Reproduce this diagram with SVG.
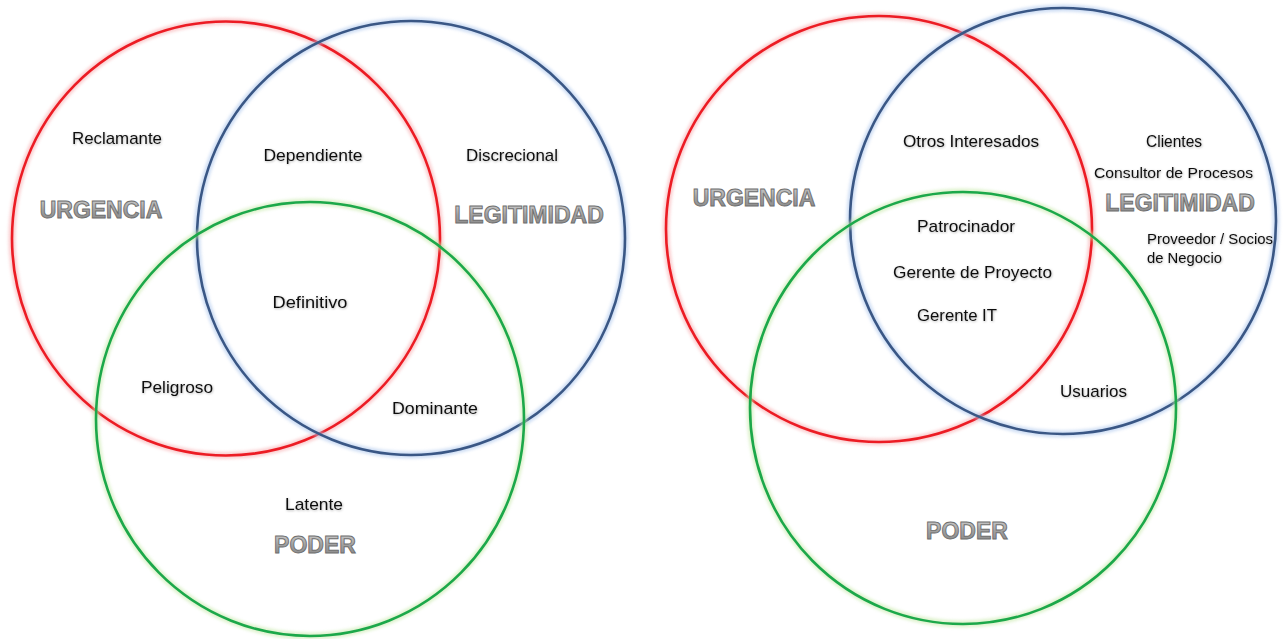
<svg xmlns="http://www.w3.org/2000/svg" width="1288" height="639" viewBox="0 0 1288 639">
  <defs>
    <filter id="halo" x="-10%" y="-10%" width="120%" height="120%">
      <feGaussianBlur stdDeviation="1.6"/>
    </filter>
    <filter id="soft" x="-10%" y="-30%" width="120%" height="160%">
      <feDropShadow dx="0.6" dy="0.8" stdDeviation="0.8" flood-color="#000" flood-opacity="0.3"/>
    </filter>
    <linearGradient id="bevel" x1="0" y1="0" x2="0" y2="1">
      <stop offset="0" stop-color="#d4d4d4"/>
      <stop offset="0.5" stop-color="#a0a0a0"/>
      <stop offset="1" stop-color="#858585"/>
    </linearGradient>
    <style>
      .ring { fill: none; stroke-width: 2.6; }
      .glow { fill: none; stroke-width: 7; opacity: 0.55; filter: url(#halo); }
      .red { stroke: #ec1c24; }
      .red-g { stroke: #f7a8ab; }
      .blue { stroke: #3a5785; }
      .blue-g { stroke: #a9c4ec; }
      .green { stroke: #1ca84a; }
      .green-g { stroke: #c5e8a6; }
      .lbl { font-family: "Liberation Sans", Arial, sans-serif; font-size: 17px; fill: #111; text-anchor: middle; filter: url(#soft); }
      .lbl-s { font-size: 15.5px; }
      .lbl-l { text-anchor: start; }
      .big { font-family: "Liberation Sans", Arial, sans-serif; font-weight: bold; font-size: 23px; fill: url(#bevel); stroke: #6e6e6e; stroke-width: 0.9; text-anchor: middle; }
    </style>
  </defs>
  <rect width="1288" height="639" fill="#ffffff"/>

  <!-- Left Venn: stakeholder classes -->
  <g id="left-venn">
    <g id="l-urgencia">
      <ellipse class="glow red-g" cx="226" cy="238.5" rx="214" ry="217"/>
      <ellipse class="ring red" cx="226" cy="238.5" rx="214" ry="217"/>
      <text class="big" x="101" y="218">URGENCIA</text>
    </g>
    <g id="l-legitimidad">
      <ellipse class="glow blue-g" cx="411" cy="238" rx="214" ry="217"/>
      <ellipse class="ring blue" cx="411" cy="238" rx="214" ry="217"/>
      <text class="big" x="529" y="223">LEGITIMIDAD</text>
    </g>
    <g id="l-poder">
      <ellipse class="glow green-g" cx="310" cy="419" rx="214" ry="217"/>
      <ellipse class="ring green" cx="310" cy="419" rx="214" ry="217"/>
      <text class="big" x="315" y="553">PODER</text>
    </g>
    <g id="l-labels">
      <text class="lbl" x="117" y="144" textLength="90" lengthAdjust="spacingAndGlyphs">Reclamante</text>
      <text class="lbl" x="313" y="161" textLength="99" lengthAdjust="spacingAndGlyphs">Dependiente</text>
      <text class="lbl" x="512" y="161" textLength="92" lengthAdjust="spacingAndGlyphs">Discrecional</text>
      <text class="lbl" x="310" y="308" textLength="75" lengthAdjust="spacingAndGlyphs">Definitivo</text>
      <text class="lbl" x="177" y="393" textLength="72" lengthAdjust="spacingAndGlyphs">Peligroso</text>
      <text class="lbl" x="435" y="414" textLength="86" lengthAdjust="spacingAndGlyphs">Dominante</text>
      <text class="lbl" x="314" y="510" textLength="58" lengthAdjust="spacingAndGlyphs">Latente</text>
    </g>
  </g>

  <!-- Right Venn: project stakeholders -->
  <g id="right-venn">
    <g id="r-urgencia">
      <circle class="glow red-g" cx="879" cy="229" r="213"/>
      <circle class="ring red" cx="879" cy="229" r="213"/>
      <text class="big" x="754" y="206">URGENCIA</text>
    </g>
    <g id="r-legitimidad">
      <circle class="glow blue-g" cx="1063" cy="221" r="213"/>
      <circle class="ring blue" cx="1063" cy="221" r="213"/>
      <text class="big" x="1180" y="211">LEGITIMIDAD</text>
    </g>
    <g id="r-poder">
      <ellipse class="glow green-g" cx="963" cy="408" rx="213" ry="216"/>
      <ellipse class="ring green" cx="963" cy="408" rx="213" ry="216"/>
      <text class="big" x="967" y="539">PODER</text>
    </g>
    <g id="r-labels">
      <text class="lbl" x="971" y="147" textLength="136" lengthAdjust="spacingAndGlyphs">Otros Interesados</text>
      <text class="lbl" x="1174" y="147" textLength="56" lengthAdjust="spacingAndGlyphs">Clientes</text>
      <text class="lbl lbl-s" x="1173.5" y="178" textLength="159" lengthAdjust="spacingAndGlyphs">Consultor de Procesos</text>
      <text class="lbl" x="966" y="232" textLength="98" lengthAdjust="spacingAndGlyphs">Patrocinador</text>
      <text class="lbl" x="972.5" y="278" textLength="159" lengthAdjust="spacingAndGlyphs">Gerente de Proyecto</text>
      <text class="lbl" x="957" y="321" textLength="80" lengthAdjust="spacingAndGlyphs">Gerente IT</text>
      <text class="lbl lbl-s lbl-l" x="1147" y="244" textLength="126" lengthAdjust="spacingAndGlyphs">Proveedor / Socios</text>
      <text class="lbl lbl-s lbl-l" x="1147" y="263" textLength="75" lengthAdjust="spacingAndGlyphs">de Negocio</text>
      <text class="lbl" x="1093.5" y="397" textLength="67" lengthAdjust="spacingAndGlyphs">Usuarios</text>
    </g>
  </g>
</svg>
